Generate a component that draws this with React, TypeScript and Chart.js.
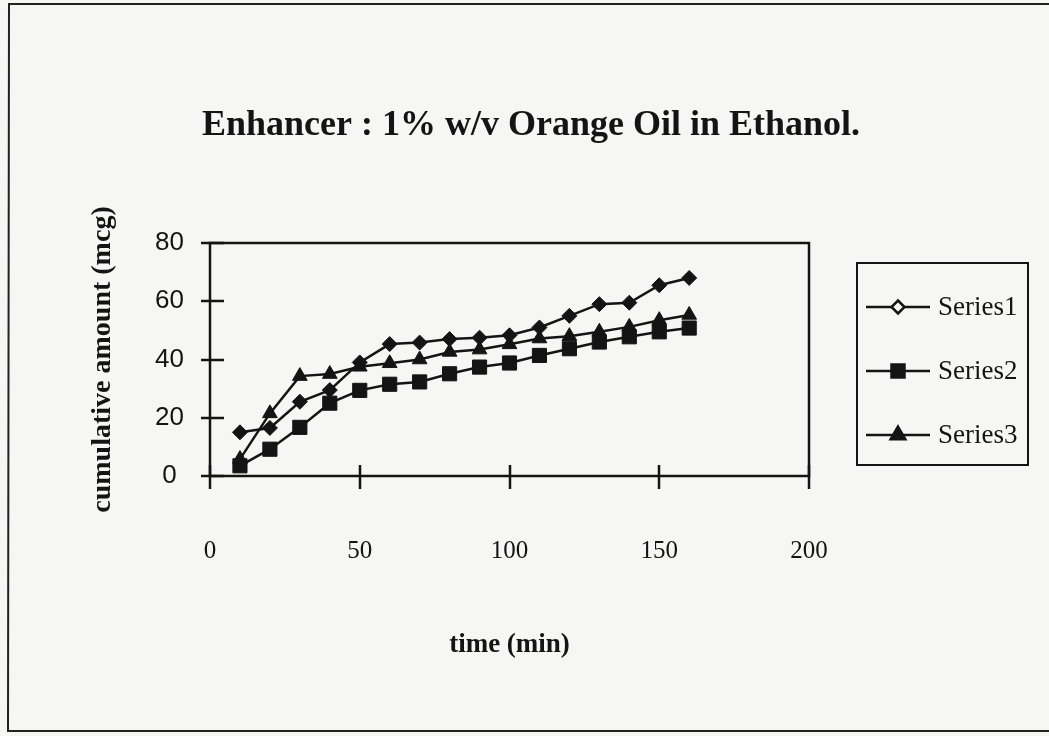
import React, { useEffect, useRef } from "react";
import { Chart, registerables } from "chart.js";

Chart.register(...registerables);

// ---- data ----
const timeMin = [10, 20, 30, 40, 50, 60, 70, 80, 90, 100, 110, 120, 130, 140, 150, 160];
const series1 = [15, 16.5, 25.5, 29.5, 39, 45.3, 45.8, 47, 47.5, 48.3, 51, 55, 59, 59.5, 65.5, 68];
const series2 = [3.5, 9.2, 16.7, 25, 29.4, 31.5, 32.3, 35.1, 37.4, 38.8, 41.4, 43.7, 46, 47.8, 49.5, 50.8];
const series3 = [5.8, 21.5, 34.3, 35, 37.5, 38.7, 40, 42.6, 43.4, 45.2, 47.2, 48, 49.5, 51.2, 53.5, 55.3];
const seriesNames = ["Series1", "Series2", "Series3"];
const xTicks = [0, 50, 100, 150, 200];
const yTicks = [0, 20, 40, 60, 80];
const titleText = "Enhancer : 1% w/v Orange Oil in Ethanol.";
const xTitle = "time (min)";
const yTitle = "cumulative amount (mcg)";

const INK = "#141414";
const PAPER = "#f6f6f5";
const SERIF = "'Liberation Serif', 'Times New Roman', serif";
const SANS = "'Liberation Sans', Arial, sans-serif";

function drawMarker(ctx: CanvasRenderingContext2D, style: string, x: number, y: number, hollow: boolean) {
  ctx.save();
  ctx.beginPath();
  if (style === "rectRot") {
    const r = 6.5;
    ctx.moveTo(x, y - r);
    ctx.lineTo(x + r, y);
    ctx.lineTo(x, y + r);
    ctx.lineTo(x - r, y);
    ctx.closePath();
  } else if (style === "rect") {
    const s = 6.5;
    ctx.rect(x - s, y - s, 2 * s, 2 * s);
  } else {
    const r = 8.5;
    ctx.moveTo(x, y - r);
    ctx.lineTo(x + r * 0.866, y + r * 0.5);
    ctx.lineTo(x - r * 0.866, y + r * 0.5);
    ctx.closePath();
  }
  ctx.fillStyle = hollow ? PAPER : INK;
  ctx.fill();
  ctx.lineWidth = 2.5;
  ctx.strokeStyle = INK;
  ctx.stroke();
  ctx.restore();
}

const paperPlugin = {
  id: "paper",
  beforeDraw(chart: any) {
    const { ctx, width, height } = chart;
    ctx.save();
    ctx.fillStyle = PAPER;
    ctx.fillRect(0, 0, width, height);
    // outer frame of the scanned page
    ctx.strokeStyle = "#222";
    ctx.lineWidth = 2;
    ctx.beginPath();
    ctx.moveTo(width + 5, 4);
    ctx.lineTo(9, 4);
    ctx.lineTo(8, 731);
    ctx.lineTo(width + 5, 731);
    ctx.stroke();
    // title
    ctx.fillStyle = INK;
    ctx.font = `bold 36px ${SERIF}`;
    ctx.textAlign = "center";
    ctx.textBaseline = "middle";
    ctx.fillText(titleText, 531, 126);
    ctx.restore();
  },
};

const axesPlugin = {
  id: "axesBox",
  beforeDatasetsDraw(chart: any) {
    const { ctx, chartArea, scales } = chart;
    const xs = scales.x;
    const ys = scales.y;
    ctx.save();
    ctx.strokeStyle = INK;
    ctx.lineWidth = 2.5;
    ctx.strokeRect(chartArea.left, chartArea.top, chartArea.right - chartArea.left, chartArea.bottom - chartArea.top);
    ctx.beginPath();
    for (const v of xTicks) {
      const px = Math.round(xs.getPixelForValue(v));
      ctx.moveTo(px, chartArea.bottom - 11);
      ctx.lineTo(px, chartArea.bottom + 13);
    }
    for (const v of yTicks) {
      const py = Math.round(ys.getPixelForValue(v));
      ctx.moveTo(chartArea.left - 9, py);
      ctx.lineTo(chartArea.left + 14, py);
    }
    ctx.stroke();
    ctx.restore();
  },
};

const legendPlugin = {
  id: "boxLegend",
  afterDraw(chart: any) {
    const { ctx } = chart;
    const left = 857;
    const top = 263;
    const w = 171;
    const h = 202;
    ctx.save();
    ctx.strokeStyle = INK;
    ctx.lineWidth = 2;
    ctx.strokeRect(left, top, w, h);
    chart.data.datasets.forEach((ds: any, i: number) => {
      const y = top + 44 + i * 64;
      ctx.beginPath();
      ctx.moveTo(left + 9, y);
      ctx.lineTo(left + 73, y);
      ctx.lineWidth = 2.5;
      ctx.strokeStyle = INK;
      ctx.stroke();
      drawMarker(ctx, ds.pointStyle, left + 41, y, i === 0);
      ctx.fillStyle = INK;
      ctx.font = `27px ${SERIF}`;
      ctx.textAlign = "left";
      ctx.textBaseline = "middle";
      ctx.fillText(ds.label, left + 81, y + 1);
    });
    ctx.restore();
  },
};

export default function App() {
  const canvasRef = useRef<HTMLCanvasElement | null>(null);

  useEffect(() => {
    document.body.style.margin = "0";
    const canvas = canvasRef.current;
    if (!canvas) return;
    const toPoints = (vals: number[]) => vals.map((v, i) => ({ x: timeMin[i], y: v }));
    const common = {
      borderColor: INK,
      borderWidth: 2.5,
      backgroundColor: INK,
      pointBackgroundColor: INK,
      pointBorderColor: INK,
      pointBorderWidth: 1,
      tension: 0,
      fill: false,
    };
    const chart = new Chart(canvas, {
      type: "line",
      data: {
        datasets: [
          { ...common, label: seriesNames[0], data: toPoints(series1), pointStyle: "rectRot", pointRadius: 7.5 },
          { ...common, label: seriesNames[1], data: toPoints(series2), pointStyle: "rect", pointRadius: 10 },
          { ...common, label: seriesNames[2], data: toPoints(series3), pointStyle: "triangle", pointRadius: 8.5 },
        ],
      },
      options: {
        animation: false,
        responsive: false,
        devicePixelRatio: 1,
        layout: { padding: { left: 0, right: 240, top: 243, bottom: 0 } },
        plugins: {
          legend: { display: false },
          tooltip: { enabled: false },
          title: { display: false },
        },
        scales: {
          x: {
            type: "linear",
            min: 0,
            max: 200,
            afterBuildTicks: (s: any) => {
              s.ticks = xTicks.map((v) => ({ value: v }));
            },
            afterFit: (s: any) => {
              s.height = 260;
            },
            grid: { display: false, drawTicks: false },
            border: { display: false },
            ticks: {
              padding: 60,
              maxRotation: 0,
              color: INK,
              font: { family: SERIF, size: 25 },
            },
            title: {
              display: true,
              text: xTitle,
              color: INK,
              font: { family: SERIF, size: 27, weight: "bold" },
              padding: { top: 0, bottom: 75 },
            },
          },
          y: {
            type: "linear",
            min: 0,
            max: 80,
            afterBuildTicks: (s: any) => {
              s.ticks = yTicks.map((v) => ({ value: v }));
            },
            afterFit: (s: any) => {
              s.width = 210;
            },
            grid: { display: false, drawTicks: false },
            border: { display: false },
            ticks: {
              padding: 26,
              crossAlign: "center",
              color: INK,
              font: { family: SANS, size: 26 },
            },
            title: {
              display: true,
              text: yTitle,
              color: INK,
              font: { family: SERIF, size: 28, weight: "bold" },
              padding: { top: 86, bottom: 0 },
            },
          },
        },
      },
      plugins: [paperPlugin, axesPlugin, legendPlugin],
    } as any);
    return () => chart.destroy();
  }, []);

  return (
    <div style={{ width: 1049, height: 736 }}>
      <canvas ref={canvasRef} width={1049} height={736} style={{ display: "block" }} />
    </div>
  );
}
